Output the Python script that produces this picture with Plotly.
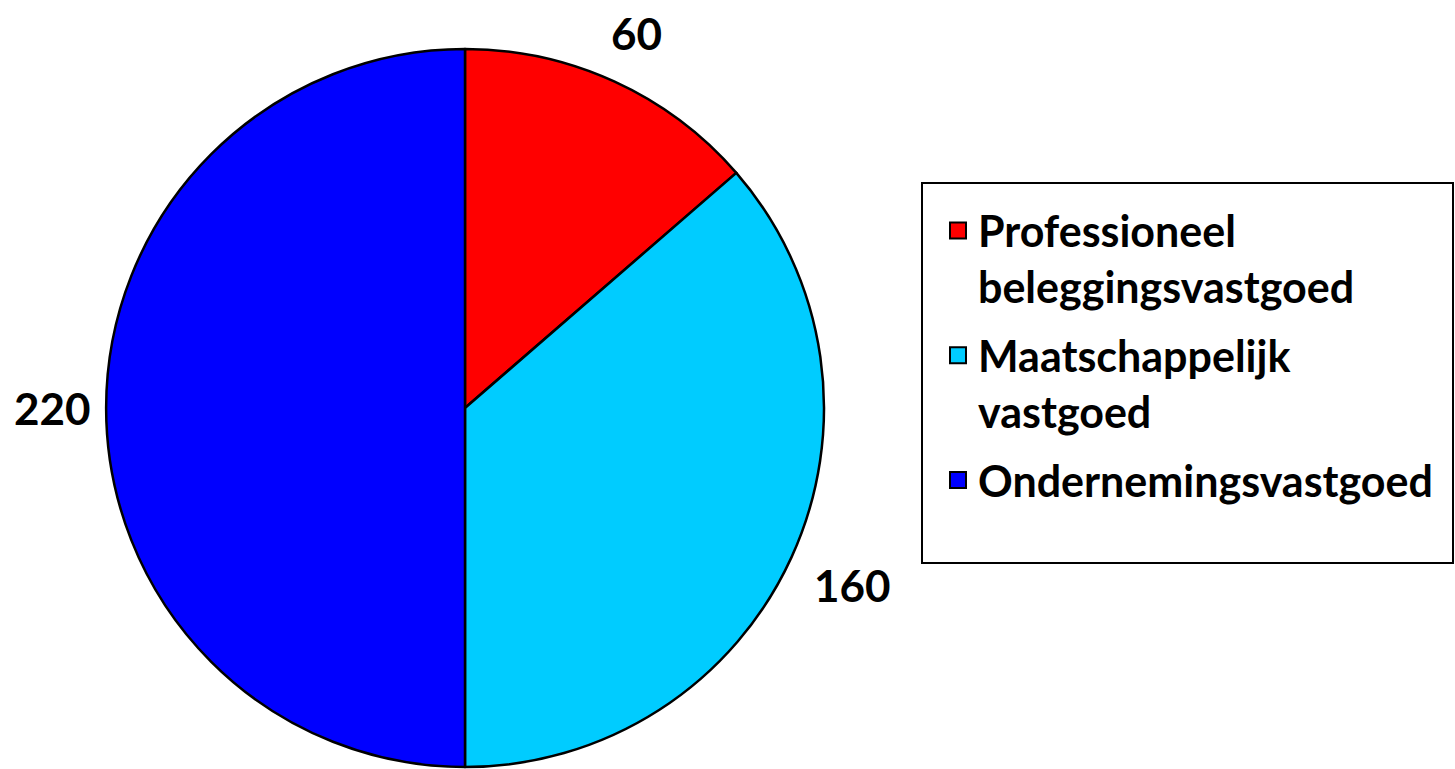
import math
import plotly.graph_objects as go

labels = ["Professioneel<br>beleggingsvastgoed", "Maatschappelijk<br>vastgoed", "Ondernemingsvastgoed"]
values = [60, 160, 220]
colors = ["#FF0000", "#00CCFF", "#0000FF"]

W, H = 1455, 769
cx, cy, R = 465, 408, 359
FONT = "Lato, Carlito, Calibri, sans-serif"

fig = go.Figure()
fig.add_trace(go.Pie(
    labels=labels, values=values, sort=False, direction="clockwise", rotation=0,
    marker=dict(colors=colors, line=dict(color="black", width=2.5)),
    textinfo="none", hoverinfo="label+value", showlegend=False,
    domain=dict(x=[(cx - R) / W, (cx + R) / W], y=[(H - cy - R) / H, (H - cy + R) / H]),
))

# legend entries (one per slice, so spacing between entries can be set)
for i, (lab, col) in enumerate(zip(labels, colors)):
    fig.add_trace(go.Scatter(
        x=[None], y=[None], mode="markers", name=lab, legendgroup=f"g{i}",
        marker=dict(symbol="square", size=16, color=col, line=dict(color="black", width=2)),
        hoverinfo="skip",
    ))

# value labels placed outside at the slice mid-angle
total = sum(values)
cum = 0
r_lab = [412, 426, 413]
for v, rl in zip(values, r_lab):
    mid = (cum + v / 2) / total * 2 * math.pi
    cum += v
    px = cx + rl * math.sin(mid)
    py = cy - rl * math.cos(mid)
    fig.add_annotation(x=px / W, y=1 - py / H, xref="paper", yref="paper",
                       xanchor="center", yanchor="middle",
                       text=str(v), showarrow=False,
                       font=dict(family=FONT, size=44, color="black", weight="bold"))

# legend frame
fig.add_shape(type="rect", xref="paper", yref="paper",
              x0=922 / W, x1=1453 / W, y0=1 - 563 / H, y1=1 - 183 / H,
              line=dict(color="black", width=2), fillcolor="rgba(0,0,0,0)")

fig.update_layout(
    width=W, height=H, margin=dict(l=0, r=0, t=0, b=0),
    paper_bgcolor="white", plot_bgcolor="white",
    xaxis=dict(visible=False), yaxis=dict(visible=False),
    showlegend=True,
    legend=dict(x=938 / W, y=1 - 196 / H, xanchor="left", yanchor="top",
                font=dict(family=FONT, size=43, color="black", weight="bold"),
                bgcolor="rgba(0,0,0,0)", borderwidth=0, itemwidth=30,
                valign="top", tracegroupgap=10, traceorder="grouped"),
)
fig.write_html("out.html", config={"displayModeBar": False},
               post_script="document.body.style.margin='0';")
